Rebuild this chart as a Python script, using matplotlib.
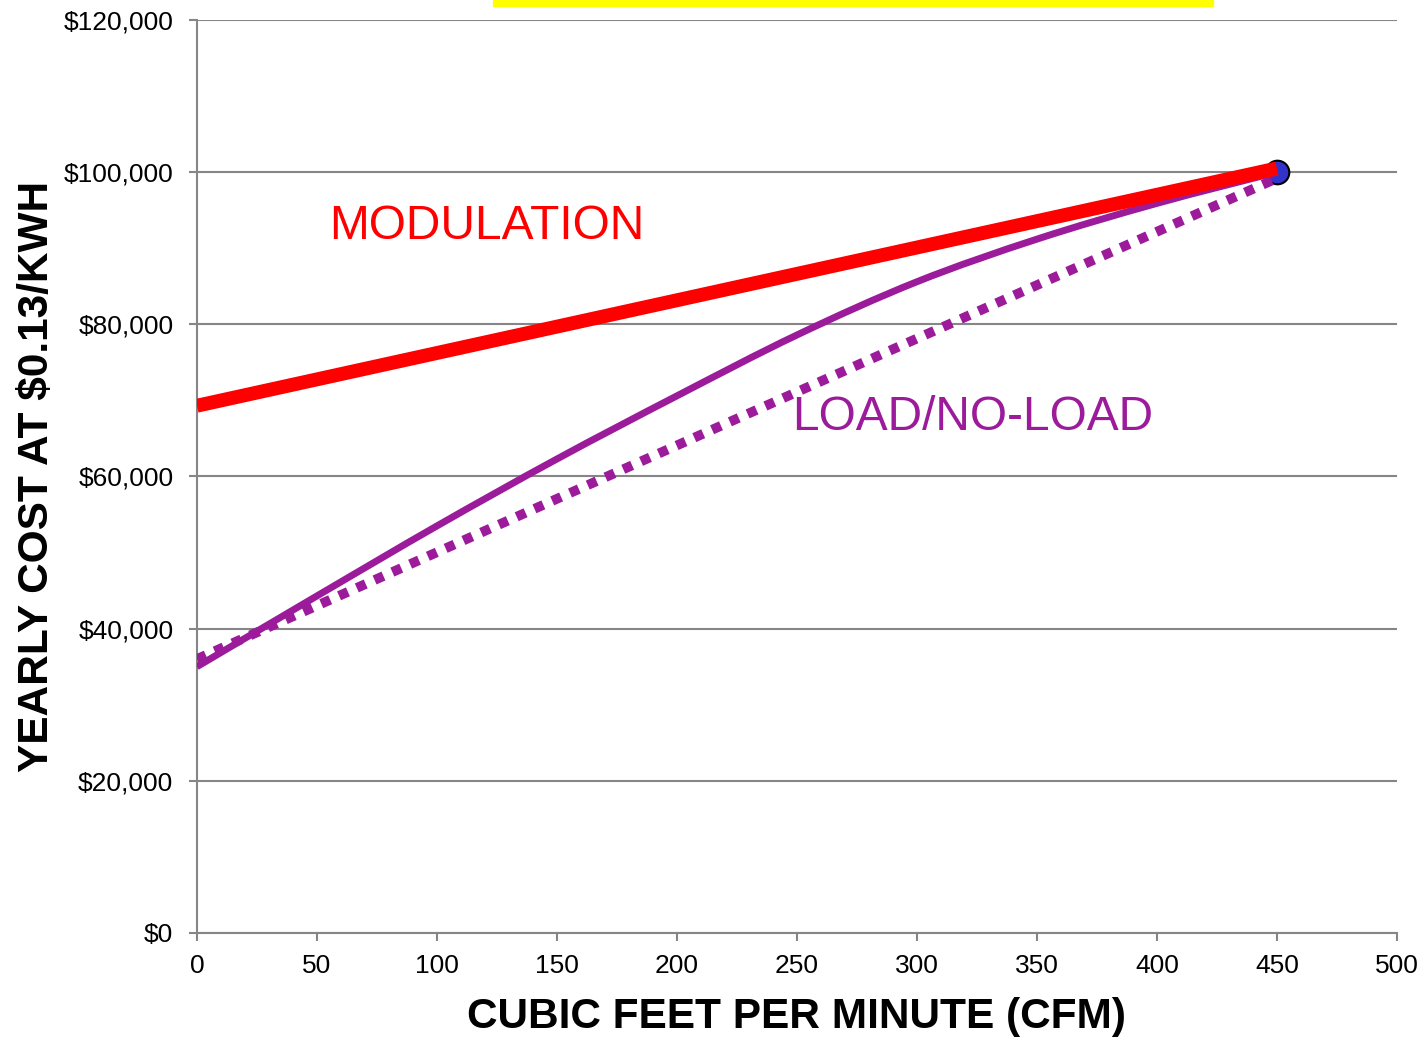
import matplotlib
matplotlib.use("Agg")
import matplotlib.pyplot as plt
from matplotlib.path import Path
from matplotlib.patches import PathPatch
from matplotlib.ticker import FuncFormatter

plt.rcParams['font.family'] = ['Liberation Sans', 'DejaVu Sans']

# modulation: straight line between no-flow and full-flow cost
mod_cfm = [0, 450]
mod_cost = [69300, 100500]

# load/no-load ideal (dotted) and actual (solid)
lnl_ideal_cfm = [0, 450]
lnl_ideal_cost = [36000, 99200]

lnl_cfm = [0, 50, 100, 150, 200, 250, 300, 350, 400, 450]
lnl_cost = [35000, 44300, 53500, 62300, 70600, 78600, 85600, 91200, 95900, 100000]

full_load_cfm = [450]
full_load_cost = [100000]

x_ticks = [0, 50, 100, 150, 200, 250, 300, 350, 400, 450, 500]
y_ticks = [0, 20000, 40000, 60000, 80000, 100000, 120000]

grey = '#868686'
purple = '#9B1B9B'


def smooth_path(xs, ys):
    # spreadsheet-style smoothed line: cubic bezier through every point
    pts = list(zip(xs, ys))
    n = len(pts)
    verts = [pts[0]]
    codes = [Path.MOVETO]
    for i in range(n - 1):
        p0 = pts[i - 1] if i > 0 else pts[i]
        p1 = pts[i]
        p2 = pts[i + 1]
        p3 = pts[i + 2] if i + 2 < n else pts[i + 1]
        c1 = (p1[0] + (p2[0] - p0[0]) / 6, p1[1] + (p2[1] - p0[1]) / 6)
        c2 = (p2[0] - (p3[0] - p1[0]) / 6, p2[1] - (p3[1] - p1[1]) / 6)
        verts += [c1, c2, p2]
        codes += [Path.CURVE4] * 3
    return Path(verts, codes)


fig = plt.figure(figsize=(14.23, 10.38), dpi=100)
ax = fig.add_axes([0.1384, 0.1012, 0.8433, 0.8795])

ax.set_xlim(0, 500)
ax.set_ylim(0, 120000)
ax.set_xticks(x_ticks)
ax.set_yticks(y_ticks)
ax.yaxis.set_major_formatter(FuncFormatter(lambda v, p: '${:,.0f}'.format(v)))

ax.grid(axis='y', color=grey, linewidth=1.5, zorder=0)
ax.set_axisbelow(True)
for side in ['top', 'right']:
    ax.spines[side].set_visible(False)
for side in ['left', 'bottom']:
    ax.spines[side].set_color(grey)
    ax.spines[side].set_linewidth(1.5)
ax.tick_params(axis='both', colors=grey, labelcolor='black', labelsize=19,
               length=6, width=1.5, direction='out')
ax.tick_params(axis='x', pad=9)
ax.tick_params(axis='y', pad=11)

ax.plot(full_load_cfm, full_load_cost, 'o', markersize=17, markerfacecolor='#3333CC',
        markeredgecolor='black', markeredgewidth=1.5, zorder=2)
ax.plot(lnl_ideal_cfm, lnl_ideal_cost, color=purple, linewidth=7,
        linestyle=(0, (1, 1)), dash_capstyle='butt', zorder=3)
ax.add_patch(PathPatch(smooth_path(lnl_cfm, lnl_cost), fill=False, edgecolor=purple,
                       linewidth=5, capstyle='butt', zorder=4))
ax.plot(mod_cfm, mod_cost, color='#FF0000', linewidth=10, solid_capstyle='butt', zorder=5)

ax.text(55, 92900, 'MODULATION', color='#FF0000', fontsize=34.5, va='center', ha='left')
ax.text(248, 67700, 'LOAD/NO-LOAD', color=purple, fontsize=34.5, va='center', ha='left')

ax.set_xlabel('CUBIC FEET PER MINUTE (CFM)', fontsize=30.5, fontweight='bold', labelpad=14)
ax.set_ylabel('YEARLY COST AT $0.13/KWH', fontsize=30.5, fontweight='bold', labelpad=5)

# highlight bar along the top edge
fig.patches.append(plt.Rectangle((493 / 1423, 1 - 6 / 1038), 720 / 1423, 6 / 1038,
                                 transform=fig.transFigure, color='#FFFF00', zorder=10))

fig.savefig('out.png', dpi=100)
